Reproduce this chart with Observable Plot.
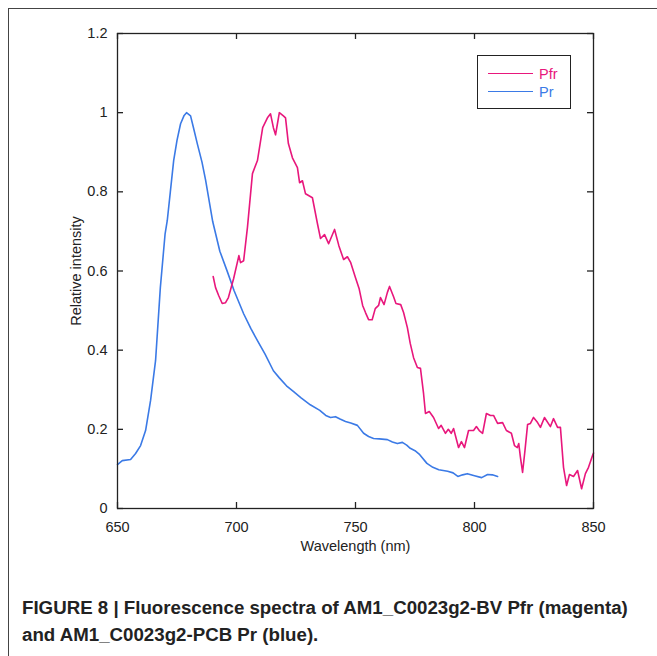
<!DOCTYPE html>
<html><head><meta charset="utf-8">
<script src="https://cdn.jsdelivr.net/npm/d3@7"></script>
<script src="https://cdn.jsdelivr.net/npm/@observablehq/plot@0.6"></script>
<style>
body{margin:0;background:#fff;font-family:"Liberation Sans",Arial,sans-serif;}
#wrap{position:relative;width:657px;height:656px;overflow:hidden;background:#fff;}
#border{position:absolute;left:8px;top:8px;width:700px;height:700px;border-left:1px solid #444;border-top:1px solid #444;}
#chart{position:absolute;left:0;top:0;}
#legend{position:absolute;left:477px;top:55px;width:92px;height:52px;border:1px solid #222;background:#fff;font-size:14.5px;}
.li{position:absolute;left:10px;height:18px;width:80px;}
.li span.ln{position:absolute;left:0;top:8px;width:45px;height:0;border-top:1.6px solid;}
.li span.tx{position:absolute;left:51px;top:0;line-height:18px;}
#caption{position:absolute;left:22px;top:594px;font-weight:bold;font-size:18.7px;line-height:27px;color:#222;white-space:nowrap;}
</style>
</head><body>
<div id="wrap">
<div id="border"></div>
<div id="chart"></div>
<div id="legend"></div>
<div id="caption">FIGURE 8 | Fluorescence spectra of AM1_C0023g2-BV Pfr (magenta)<br>and AM1_C0023g2-PCB Pr (blue).</div>
</div>
<script>
// Tick values
const xTicks = [650, 700, 750, 800, 850];
const yTicks = [0, 0.2, 0.4, 0.6, 0.8, 1.0, 1.2];

// Series names & colours
const seriesNames = ["Pfr", "Pr"];
const seriesColors = ["#e8177c", "#3b7ae6"];

// Pfr (magenta) spectrum
const pfrWave = [690.2,691.2,692.5,694,695.4,696.6,698.8,701,701.7,703,704.6,706.7,708.8,711,713,714.3,715.5,716.4,717.2,718,719.7,720.6,721.8,723.5,725.6,726.5,727.7,729,731.9,734,735.3,737,738.7,741.2,743,745,746.6,748,750,751.5,753,754.2,755.5,757,758.3,759.7,760.5,762,763.4,764.3,766,767,769,770.2,771.8,773,774.4,776,777.3,778.6,779.4,781,782.8,784.9,786,787.8,789,790.2,791.2,793.3,794.5,795.8,797.5,799.6,800.8,802,803.4,805,806.7,808,809.7,811.8,813.4,815.5,816.8,818,818.6,819.3,820.2,821.2,822.3,823.5,824.8,826.5,827.7,829.4,831.9,833.2,834.9,836.1,837.4,838.7,839.9,841.6,843.3,845,846.6,847.9,849.6,850];
const pfrVal = [0.586,0.558,0.538,0.518,0.52,0.533,0.581,0.639,0.621,0.626,0.71,0.846,0.879,0.962,0.987,0.997,0.962,0.944,0.972,1.0,0.992,0.987,0.922,0.886,0.861,0.823,0.828,0.795,0.785,0.72,0.682,0.692,0.669,0.705,0.664,0.629,0.636,0.621,0.583,0.556,0.513,0.495,0.477,0.477,0.505,0.513,0.533,0.515,0.546,0.561,0.535,0.518,0.515,0.495,0.457,0.417,0.381,0.356,0.354,0.29,0.24,0.245,0.23,0.202,0.21,0.19,0.2,0.19,0.202,0.154,0.169,0.154,0.197,0.197,0.207,0.197,0.19,0.24,0.235,0.235,0.215,0.217,0.197,0.19,0.159,0.154,0.164,0.129,0.091,0.146,0.212,0.215,0.23,0.217,0.205,0.23,0.207,0.227,0.205,0.205,0.104,0.058,0.086,0.081,0.096,0.05,0.088,0.104,0.134,0.14];

// Pr (blue) spectrum
const prWave = [650,652,655.5,657.6,659.7,661.8,663.9,666,668,670,670.9,672.2,673.6,675,676.5,678,679,680.7,682,683.6,685.5,687,690,693,696,699,703,706,708.8,712,715.5,718,721,724,727,731,735,737.5,739.5,741.6,743.5,745.8,748,750.8,753.4,755.5,757.6,760,763.4,765.5,767.6,769.7,771.5,773,775,777,780,782.5,785,788.7,791,793,795,797,800,803,805.5,807.5,809.7];
const prVal = [0.111,0.121,0.124,0.139,0.159,0.197,0.273,0.374,0.558,0.694,0.727,0.8,0.879,0.93,0.972,0.993,1.0,0.992,0.96,0.92,0.875,0.83,0.725,0.65,0.601,0.55,0.492,0.455,0.424,0.39,0.348,0.33,0.31,0.295,0.28,0.262,0.248,0.235,0.23,0.232,0.226,0.22,0.216,0.21,0.19,0.182,0.177,0.176,0.174,0.168,0.164,0.167,0.16,0.152,0.146,0.136,0.114,0.104,0.098,0.094,0.09,0.081,0.085,0.088,0.083,0.078,0.086,0.085,0.081];

const pfr = pfrWave.map((w, i) => ({w, v: pfrVal[i]}));
const pr = prWave.map((w, i) => ({w, v: prVal[i]}));

const W = 657, H = 580, mL = 117, mR = 64, mT = 33, mB = 72;
const iw = W - mL - mR, ih = H - mT - mB;
const tk = 6;
const fmt = d => String(+d.toFixed(1));

const chart = Plot.plot({
  width: W, height: H,
  marginLeft: mL, marginRight: mR, marginTop: mT, marginBottom: mB,
  x: {domain: [650, 850]},
  y: {domain: [0, 1.2]},
  style: {fontFamily: '"Liberation Sans", Arial, sans-serif', fontSize: "14.5px", color: "#222", background: "transparent", overflow: "visible"},
  marks: [
    Plot.line(pr, {x: "w", y: "v", stroke: seriesColors[1], strokeWidth: 1.6}),
    Plot.line(pfr, {x: "w", y: "v", stroke: seriesColors[0], strokeWidth: 1.6}),
    Plot.frame({stroke: "#222", strokeWidth: 1.3}),
    Plot.ruleX(xTicks, {stroke: "#222", strokeWidth: 1.3, insetTop: ih - tk}),
    Plot.ruleX(xTicks, {stroke: "#222", strokeWidth: 1.3, insetBottom: ih - tk}),
    Plot.ruleY(yTicks, {stroke: "#222", strokeWidth: 1.3, insetRight: iw - tk}),
    Plot.ruleY(yTicks, {stroke: "#222", strokeWidth: 1.3, insetLeft: iw - tk}),
    Plot.axisX(xTicks, {anchor: "bottom", tickSize: 0, tickPadding: 13, label: "Wavelength (nm)", labelAnchor: "center", labelArrow: "none", labelOffset: 42}),
    Plot.axisY(yTicks, {anchor: "left", tickSize: 0, tickPadding: 10, tickFormat: fmt, label: "Relative intensity", labelAnchor: "center", labelArrow: "none", labelOffset: 47})
  ]
});
document.getElementById("chart").appendChild(chart);

const leg = document.getElementById("legend");
seriesNames.forEach((n, i) => {
  const d = document.createElement("div");
  d.className = "li";
  d.style.top = (i === 0 ? 9 : 27) + "px";
  d.innerHTML = `<span class="ln" style="border-color:${seriesColors[i]}"></span><span class="tx" style="color:${seriesColors[i]}">${n}</span>`;
  leg.appendChild(d);
});
</script>
</body></html>
